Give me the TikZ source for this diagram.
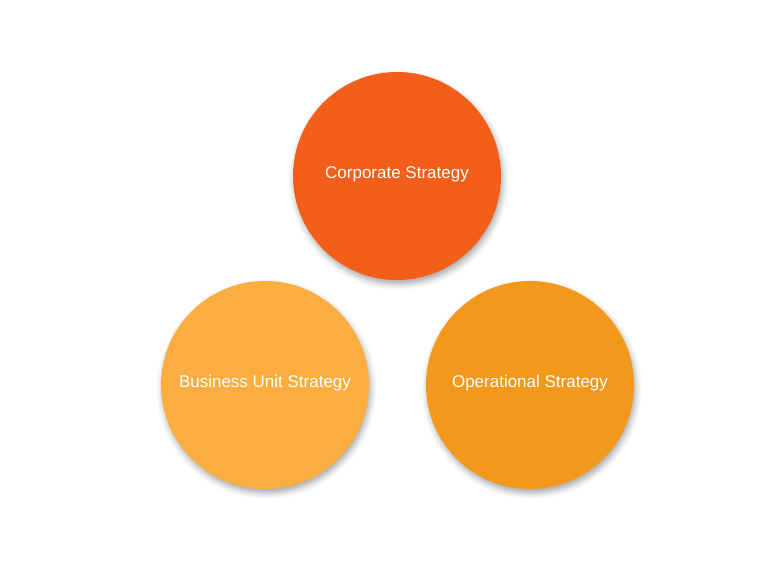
\documentclass[tikz,border=0pt]{standalone}
\usepackage{fontspec}
\setmainfont{Liberation Sans}
\usetikzlibrary{shadows.blur}
\definecolor{corp}{HTML}{F45E1B}
\definecolor{unit}{HTML}{FBAE3F}
\definecolor{oper}{HTML}{F2981B}
\tikzset{strat/.style={circle,minimum size=104pt,inner sep=0pt,text=white,
  text depth=3.8pt,font=\fontsize{8.5pt}{10pt}\selectfont,
  blur shadow={shadow xshift=0.8pt,shadow yshift=-2pt,shadow blur radius=3pt,shadow opacity=35}}}

\begin{document}
\begin{tikzpicture}[x=0.5pt,y=-0.5pt]
\useasboundingbox (0,0) rectangle (768,578);
\node[strat,fill=corp] (corp) at (397,176) {Corporate Strategy};
\node[strat,fill=unit] (unit) at (265,385) {Business Unit Strategy};
\node[strat,fill=oper] (oper) at (530,385) {Operational Strategy};
\end{tikzpicture}
\end{document}
